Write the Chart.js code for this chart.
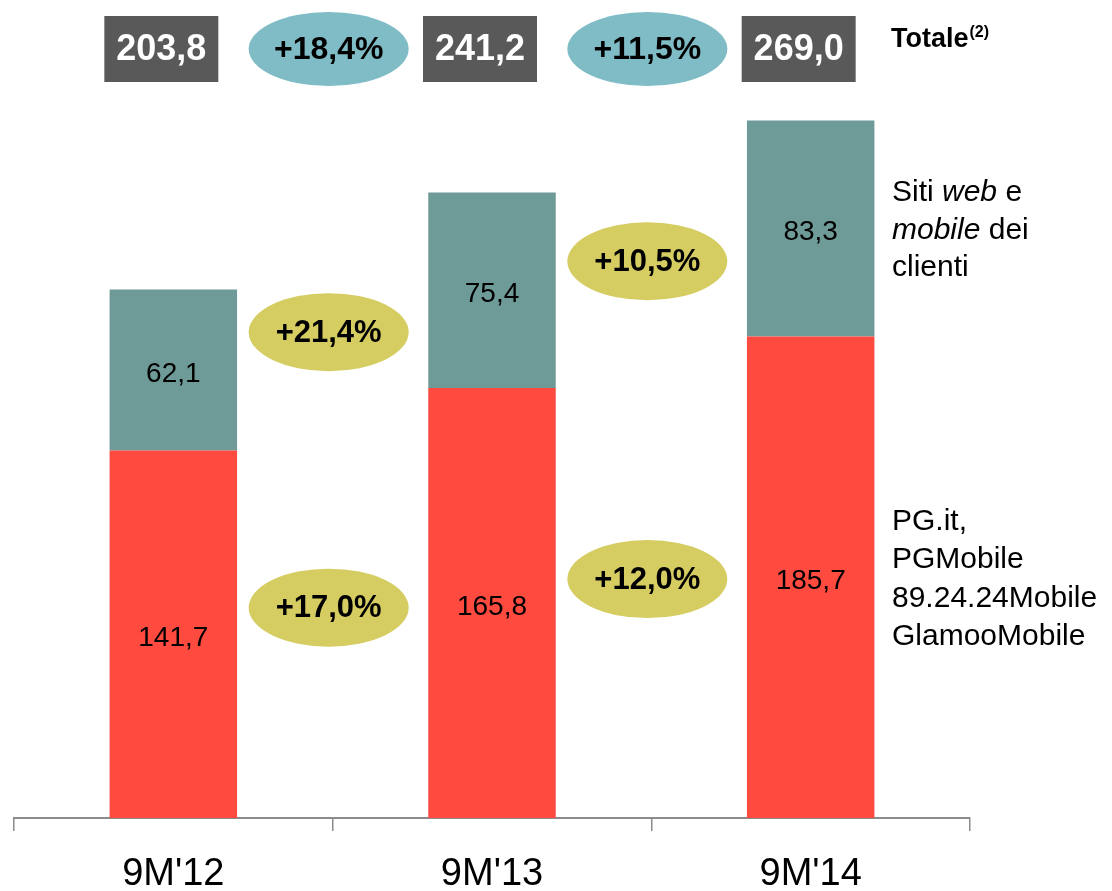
<!DOCTYPE html>
<html lang="it">
<head>
<meta charset="UTF-8">
<title>Ricavi 9M</title>
<script src="https://cdn.jsdelivr.net/npm/chart.js@4.4.1/dist/chart.umd.min.js"></script>
<style>
  body { margin: 0; background: #fff; }
  canvas { display: block; }
</style>
</head>
<body>
<canvas id="chart" width="1112" height="891"></canvas>
<script>
const categories = ["9M'12", "9M'13", "9M'14"];
const pgValues = [141.7, 165.8, 185.7];
const clientValues = [62.1, 75.4, 83.3];
const totalGrowth = ['+18,4%', '+11,5%'];
const clientGrowth = ['+21,4%', '+10,5%'];
const pgGrowth = ['+17,0%', '+12,0%'];
const pgLabel = [[['PG.it,', '']], [['PGMobile', '']], [['89.24.24Mobile', '']], [['GlamooMobile', '']]];
const clientLabel = [[['Siti ', ''], ['web', 'italic '], [' e', '']], [['mobile', 'italic '], [' dei', '']], [['clienti', '']]];

const FONT = "'Liberation Sans', Arial, sans-serif";
const fmt = v => v.toFixed(1).replace('.', ',');

function ellipse(ctx, x, y, rx, ry, fill, text, size) {
  ctx.beginPath();
  ctx.ellipse(x, y, rx, ry, 0, 0, Math.PI * 2);
  ctx.fillStyle = fill;
  ctx.fill();
  ctx.fillStyle = '#000';
  ctx.font = 'bold ' + size + 'px ' + FONT;
  ctx.textAlign = 'center';
  ctx.textBaseline = 'middle';
  ctx.fillText(text, x, y + 1);
}

function richLines(ctx, lines, x, cy, size, gap) {
  ctx.textAlign = 'left';
  ctx.textBaseline = 'middle';
  ctx.fillStyle = '#000';
  lines.forEach((runs, i) => {
    const y = cy + (i - (lines.length - 1) / 2) * gap;
    let cx = x;
    runs.forEach(r => {
      ctx.font = r[1] + size + 'px ' + FONT;
      ctx.fillText(r[0], cx, y);
      cx += ctx.measureText(r[0]).width;
    });
  });
}

const overlay = {
  id: 'overlay',
  afterDatasetsDraw(chart) {
    const ctx = chart.ctx;
    const pg = chart.getDatasetMeta(0).data;
    const cl = chart.getDatasetMeta(1).data;
    const mid = b => (b.y + b.base) / 2;
    ctx.save();

    // values inside the bars
    ctx.font = '28px ' + FONT;
    ctx.fillStyle = '#000';
    ctx.textAlign = 'center';
    ctx.textBaseline = 'middle';
    [pg, cl].forEach((bars, d) => {
      const vals = d === 0 ? pgValues : clientValues;
      bars.forEach((b, i) => ctx.fillText(fmt(vals[i]), b.x, mid(b) + 4));
    });

    // growth ellipses between bars
    for (let i = 0; i < categories.length - 1; i++) {
      const x = (pg[i].x + pg[i + 1].x) / 2 - 4;
      ellipse(ctx, x, (mid(cl[i]) + mid(cl[i + 1])) / 2 + 2, 80, 39, '#D5CD62', clientGrowth[i], 31);
      ellipse(ctx, x, (mid(pg[i]) + mid(pg[i + 1])) / 2 - 11, 80, 39, '#D5CD62', pgGrowth[i], 31);
      ellipse(ctx, x, 49, 80, 37, '#7FBCC6', totalGrowth[i], 32);
    }

    // total boxes
    pg.forEach((b, i) => {
      const cx = b.x - 12;
      ctx.fillStyle = '#595959';
      ctx.fillRect(cx - 57, 16, 114, 66);
      ctx.fillStyle = '#fff';
      ctx.font = 'bold 36px ' + FONT;
      ctx.textAlign = 'center';
      ctx.textBaseline = 'middle';
      ctx.fillText(fmt(pgValues[i] + clientValues[i]), cx, 50);
    });

    // Totale(2)
    ctx.fillStyle = '#000';
    ctx.textAlign = 'left';
    ctx.textBaseline = 'alphabetic';
    ctx.font = 'bold 27px ' + FONT;
    ctx.fillText('Totale', 891, 47);
    const tw = ctx.measureText('Totale').width;
    ctx.font = 'bold 16px ' + FONT;
    ctx.fillText('(2)', 891 + tw + 1, 37);

    // series labels on the right
    const last = categories.length - 1;
    richLines(ctx, clientLabel, 892, mid(cl[last]) + 2, 30, 37.7);
    richLines(ctx, pgLabel, 892, mid(pg[last]) + 2, 30, 38.2);

    ctx.restore();
  }
};

new Chart(document.getElementById('chart'), {
  type: 'bar',
  data: {
    labels: categories,
    datasets: [
      { label: 'PG.it, PGMobile, 89.24.24Mobile, GlamooMobile', data: pgValues, backgroundColor: '#FF4A40' },
      { label: 'Siti web e mobile dei clienti', data: clientValues, backgroundColor: '#6E9A98' }
    ]
  },
  options: {
    responsive: false,
    animation: false,
    devicePixelRatio: 1,
    layout: { padding: { top: 40, left: 14, right: 142, bottom: 0 } },
    datasets: { bar: { categoryPercentage: 1, barPercentage: 0.4 } },
    plugins: { legend: { display: false }, tooltip: { enabled: false } },
    scales: {
      x: {
        stacked: true,
        offset: true,
        afterFit: s => { s.height = 73; },
        grid: { offset: true, drawOnChartArea: false, drawTicks: true, tickLength: 13, color: '#8c8c8c', lineWidth: 1.5 },
        border: { display: true, color: '#8c8c8c', width: 2 },
        ticks: { color: '#000', padding: 27, font: { family: FONT, size: 38, lineHeight: 0.88 } }
      },
      y: { stacked: true, display: false, min: 0, max: 300 }
    }
  },
  plugins: [overlay]
});
</script>
</body>
</html>
